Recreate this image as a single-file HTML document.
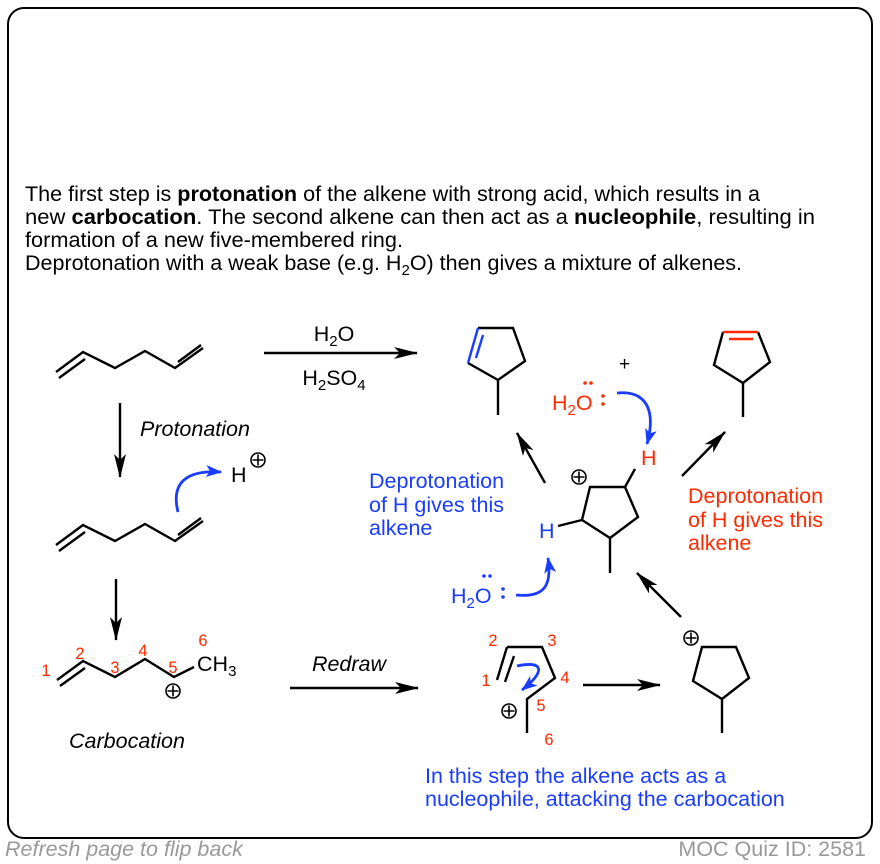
<!DOCTYPE html>
<html><head><meta charset="utf-8"><style>
body{margin:0;background:#fff;width:880px;height:864px;overflow:hidden}
svg{display:block;font-family:"Liberation Sans",Arial,sans-serif}
</style></head><body>
<svg width="880" height="864" viewBox="0 0 880 864" xmlns="http://www.w3.org/2000/svg">
<defs>
<marker id="ak" viewBox="0 0 24 12" refX="23" refY="6" markerWidth="24" markerHeight="12" markerUnits="userSpaceOnUse" orient="auto"><path d="M0,0 L24,6 L0,12 L6,6z" fill="#000"/></marker>
<marker id="ab" viewBox="0 0 16 12" refX="15" refY="6" markerWidth="16" markerHeight="12" markerUnits="userSpaceOnUse" orient="auto"><path d="M0,0 L16,6 L0,12 L4,6z" fill="#1a3cff"/></marker>
</defs>
<rect x="8" y="8" width="864" height="830" rx="16" fill="#fff" stroke="#000" stroke-width="2"/>
<g font-size="21.5" fill="#000">
<text x="25" y="201" textLength="735" lengthAdjust="spacingAndGlyphs">The first step is <tspan font-weight="bold">protonation</tspan> of the alkene with strong acid, which results in a</text>
<text x="25" y="224" textLength="790" lengthAdjust="spacingAndGlyphs">new <tspan font-weight="bold">carbocation</tspan>. The second alkene can then act as a <tspan font-weight="bold">nucleophile</tspan>, resulting in</text>
<text x="25" y="247" textLength="378" lengthAdjust="spacingAndGlyphs">formation of a new five-membered ring.</text>
<text x="25" y="270">Deprotonation with a weak base (e.g. H<tspan font-size="15" dy="5">2</tspan><tspan dy="-5">O) then gives a mixture of alkenes.</tspan></text>
</g>
<g stroke="#000" stroke-width="2.4" fill="none" stroke-linejoin="miter">
<polyline points="56,372 83,352 115,368 145,351 175,368 203,348"/>
<line x1="59" y1="378" x2="85" y2="359"/>
<line x1="178" y1="362" x2="201" y2="345"/>
<polyline points="56,545 83,525 115,541 145,524 175,541 203,521"/>
<line x1="59" y1="551" x2="85" y2="532"/>
<line x1="178" y1="535" x2="201" y2="518"/>
<polyline points="57,680 83,661 115,677 145,659 174,677 194,667"/>
<line x1="60" y1="686" x2="85" y2="668"/>
<line x1="264" y1="353" x2="417" y2="353" marker-end="url(#ak)"/>
<line x1="120" y1="403" x2="120" y2="477" marker-end="url(#ak)"/>
<line x1="116" y1="579" x2="116" y2="640" marker-end="url(#ak)"/>
<line x1="290" y1="688" x2="418" y2="688" marker-end="url(#ak)"/>
<line x1="583" y1="685" x2="660" y2="685" marker-end="url(#ak)"/>
<line x1="545" y1="483" x2="517" y2="433" marker-end="url(#ak)"/>
<line x1="682" y1="476" x2="725" y2="432" marker-end="url(#ak)"/>
<line x1="681" y1="617" x2="637" y2="573" marker-end="url(#ak)"/>
<polyline points="478,328 513,328 525,361 498,380 468,363"/>
<line x1="498" y1="380" x2="498" y2="415"/>
<polyline points="758,332 770,362 743,383 714,365 723,332"/>
<line x1="743" y1="383" x2="743" y2="417"/>
<polygon points="590,487 625,487 638,517 610,538 582,520"/>
<line x1="610" y1="538" x2="610" y2="573"/>
<line x1="625" y1="487" x2="635" y2="469"/>
<line x1="582" y1="520" x2="558" y2="526"/>
<polygon points="702,647 736,647 749,678 722,699 693,681"/>
<line x1="722" y1="699" x2="722" y2="733"/>
<polyline points="507,647 542,647 555,678 527,699 527,733"/>
<line x1="507" y1="647" x2="497" y2="680"/>
<line x1="514" y1="656" x2="505" y2="682"/>
</g>
<g stroke-width="2.4" fill="none">
<line x1="478" y1="328" x2="468" y2="363" stroke="#1a3cff"/>
<line x1="483" y1="335" x2="476" y2="358" stroke="#1a3cff"/>
<line x1="723" y1="332" x2="758" y2="332" stroke="#ff2a00"/>
<line x1="729" y1="339" x2="753" y2="339" stroke="#ff2a00"/>
</g>
<g stroke="#1a3cff" stroke-width="2.8" fill="none">
<path d="M178,512 C170,480 190,470 221,472" marker-end="url(#ab)"/>
<path d="M617,393 C650,390 655,415 647,444" marker-end="url(#ab)"/>
<path d="M516,595 C545,598 552,585 548,558" marker-end="url(#ab)"/>
<path d="M517,666 C545,660 545,672 522,690" marker-end="url(#ab)"/>
</g>
<g stroke="#000" stroke-width="1.6" fill="none">
<circle cx="258" cy="460" r="7"/><path d="M252.5,460h11M258,454.5v11"/>
<circle cx="173" cy="691" r="7"/><path d="M167.5,691h11M173,685.5v11"/>
<circle cx="579" cy="477" r="7"/><path d="M573.5,477h11M579,471.5v11"/>
<circle cx="691" cy="638" r="7"/><path d="M685.5,638h11M691,632.5v11"/>
<circle cx="509" cy="711" r="7"/><path d="M503.5,711h11M509,705.5v11"/>
</g>
<g font-size="21.5" fill="#000">
<text x="334" y="341" text-anchor="middle">H<tspan font-size="15" dy="5">2</tspan><tspan dy="-5">O</tspan></text>
<text x="334" y="385" text-anchor="middle">H<tspan font-size="15" dy="5">2</tspan><tspan dy="-5">SO</tspan><tspan font-size="15" dy="5">4</tspan></text>
<text x="140" y="436" font-style="italic">Protonation</text>
<text x="231" y="482">H</text>
<text x="197" y="671">CH<tspan font-size="15" dy="5">3</tspan></text>
<text x="127" y="748" text-anchor="middle" font-style="italic">Carbocation</text>
<text x="349" y="671" text-anchor="middle" font-style="italic">Redraw</text>
<text x="619" y="370" font-size="19">+</text>
</g>
<g font-size="16.5" fill="#ff2a00">
<text x="46" y="676" text-anchor="middle">1</text>
<text x="80" y="659" text-anchor="middle">2</text>
<text x="115" y="673" text-anchor="middle">3</text>
<text x="143" y="656" text-anchor="middle">4</text>
<text x="173" y="673" text-anchor="middle">5</text>
<text x="203" y="646" text-anchor="middle">6</text>
<text x="486" y="686" text-anchor="middle">1</text>
<text x="493" y="646" text-anchor="middle">2</text>
<text x="552" y="646" text-anchor="middle">3</text>
<text x="565" y="683" text-anchor="middle">4</text>
<text x="541" y="711" text-anchor="middle">5</text>
<text x="549" y="745" text-anchor="middle">6</text>
</g>
<g font-size="21.5" fill="#ff2a00">
<text x="552" y="410">H<tspan font-size="15" dy="5">2</tspan><tspan dy="-5">O</tspan></text>
<circle cx="585" cy="383" r="1.8"/><circle cx="591" cy="383" r="1.8"/>
<circle cx="603" cy="396" r="1.8"/><circle cx="603" cy="404" r="1.8"/>
<text x="641" y="465">H</text>
<text x="688" y="503">Deprotonation</text>
<text x="688" y="527">of H gives this</text>
<text x="688" y="550">alkene</text>
</g>
<g font-size="21.5" fill="#1a3cff">
<text x="369" y="488">Deprotonation</text>
<text x="369" y="512">of H gives this</text>
<text x="369" y="535">alkene</text>
<text x="539" y="538">H</text>
<text x="451" y="603">H<tspan font-size="15" dy="5">2</tspan><tspan dy="-5">O</tspan></text>
<circle cx="484" cy="576" r="1.8"/><circle cx="490" cy="576" r="1.8"/>
<circle cx="503" cy="589" r="1.8"/><circle cx="503" cy="597" r="1.8"/>
<text x="425" y="783">In this step the alkene acts as a</text>
<text x="425" y="806">nucleophile, attacking the carbocation</text>
</g>
<text x="5" y="856" font-size="21.5" font-style="italic" fill="#999">Refresh page to flip back</text>
<text x="866" y="856" font-size="21.5" fill="#999" text-anchor="end">MOC Quiz ID: 2581</text>
</svg>
</body></html>
